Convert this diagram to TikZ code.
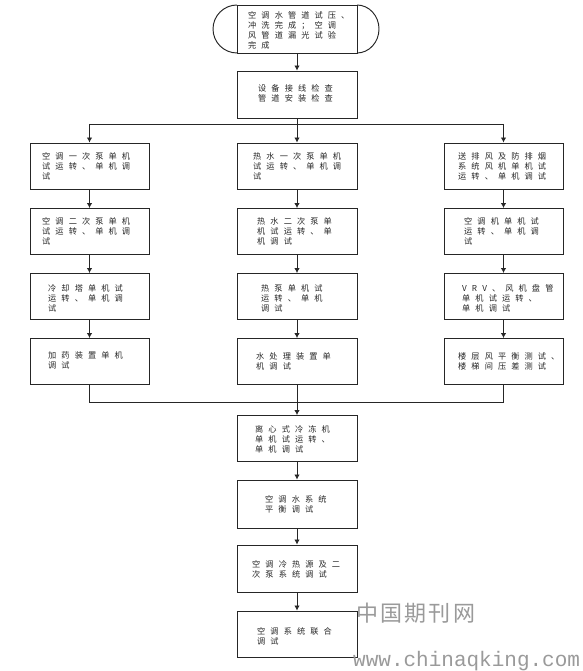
\documentclass[tikz,border=0pt]{standalone}
\usepackage{fontspec}
\newfontfamily\cjk{Noto Sans CJK SC}[LetterSpace=62]
\newfontfamily\cjkwm{Noto Sans CJK SC}[LetterSpace=10]
\newfontfamily\wmmono{Liberation Mono}
\usetikzlibrary{arrows.meta}
\definecolor{ink}{HTML}{262626}
\definecolor{wm}{HTML}{9A9A9A}
\begin{document}
\begin{tikzpicture}[x=1pt,y=-1pt,
  box/.style={draw=ink,line width=0.95pt,minimum width=119pt,minimum height=46pt,inner sep=0pt},
  txt/.style={font=\cjk\fontsize{8.2}{10}\selectfont,text=ink,align=left,inner sep=0pt,anchor=north west},
  conn/.style={draw=ink,line width=0.85pt},
  arr/.style={conn,-{Latex[length=5pt,width=5.5pt]}}]
\useasboundingbox[fill=white] (0,0) rectangle (582,671);

% top terminator
\node[box,minimum width=120pt,minimum height=48pt] (T) at (297,29) {};
\draw[draw=ink,line width=0.95pt] (237,5) .. controls (223.8,5) and (213,15.8) .. (213,29)
   .. controls (213,42.2) and (223.8,53) .. (237,53);
\draw[draw=ink,line width=0.95pt] (357,5) .. controls (369.1,5) and (379,15.8) .. (379,29)
   .. controls (379,42.2) and (369.1,53) .. (357,53);
\node[txt] (Tt) at (248,11) {空调水管道试压、\\冲洗完成；空调\\风管道漏光试验\\完成};

\node[box,minimum width=120pt,minimum height=47pt] (B0) at (297,94.5) {};
\node[txt] (B0t) at (258,84) {设备接线检查\\管道安装检查};

% left column
\node[box] (L1) at (89.5,166) {};
\node[box] (L2) at (89.5,231.5) {};
\node[box] (L3) at (89.5,296.5) {};
\node[box] (L4) at (89.5,361.5) {};
\node[txt] (L1t) at (42,152) {空调一次泵单机\\试运转、单机调\\试};
\node[txt] (L2t) at (42,217) {空调二次泵单机\\试运转、单机调\\试};
\node[txt] (L3t) at (48,284) {冷却塔单机试\\运转、单机调\\试};
\node[txt] (L4t) at (48,351) {加药装置单机\\调试};

% middle column
\node[box,minimum width=120pt] (M1) at (297,166) {};
\node[box,minimum width=120pt] (M2) at (297,231.5) {};
\node[box,minimum width=120pt] (M3) at (297,296.5) {};
\node[box,minimum width=120pt] (M4) at (297,361.5) {};
\node[txt] (M1t) at (253,152) {热水一次泵单机\\试运转、单机调\\试};
\node[txt] (M2t) at (257,217) {热水二次泵单\\机试运转、单\\机调试};
\node[txt] (M3t) at (261,284) {热泵单机试\\运转、单机\\调试};
\node[txt] (M4t) at (256,352) {水处理装置单\\机调试};

% right column
\node[box] (R1) at (503.5,166) {};
\node[box] (R2) at (503.5,231.5) {};
\node[box] (R3) at (503.5,296.5) {};
\node[box] (R4) at (503.5,361.5) {};
\node[txt] (R1t) at (458,152) {送排风及防排烟\\系统风机单机试\\运转、单机调试};
\node[txt] (R2t) at (464,217) {空调机单机试\\运转、单机调\\试};
\node[txt] (R3t) at (462,284) {VRV、风机盘管\\单机试运转、\\单机调试};
\node[txt] (R4t) at (458,352) {楼层风平衡测试、\\楼梯间压差测试};

% center chain
\node[box,minimum width=120pt] (C1) at (297,438.5) {};
\node[box,minimum width=120pt,minimum height=48pt] (C2) at (297,504) {};
\node[box,minimum width=120pt,minimum height=47pt] (C3) at (297,568.5) {};
\node[box,minimum width=120pt] (C4) at (297,634) {};
\node[txt] (C1t) at (255,425) {离心式冷冻机\\单机试运转、\\单机调试};
\node[txt] (C2t) at (265,495) {空调水系统\\平衡调试};
\node[txt] (C3t) at (252,560) {空调冷热源及二\\次泵系统调试};
\node[txt] (C4t) at (257,627) {空调系统联合\\调试};

% connectors
\coordinate (sL) at (89.5,124);
\coordinate (sR) at (503.5,124);
\coordinate (jL) at (89.5,402);
\coordinate (jR) at (503.5,402);
\draw[arr] (T.south) -- (B0.north);
\draw[arr] (B0.south) -- (M1.north);
\draw[conn] (sL) -- (sR);
\draw[arr] (sL) -- (L1.north);
\draw[arr] (sR) -- (R1.north);
\draw[arr] (L1.south) -- (L2.north);
\draw[arr] (L2.south) -- (L3.north);
\draw[arr] (L3.south) -- (L4.north);
\draw[arr] (M1.south) -- (M2.north);
\draw[arr] (M2.south) -- (M3.north);
\draw[arr] (M3.south) -- (M4.north);
\draw[arr] (R1.south) -- (R2.north);
\draw[arr] (R2.south) -- (R3.north);
\draw[arr] (R3.south) -- (R4.north);
\draw[conn] (L4.south) -- (jL) -- (jR) -- (R4.south);
\draw[arr] (M4.south) -- (C1.north);
\draw[arr] (C1.south) -- (C2.north);
\draw[arr] (C2.south) -- (C3.north);
\draw[arr] (C3.south) -- (C4.north);

% watermark
\node[font=\cjkwm\fontsize{22}{22}\selectfont,text=wm,inner sep=0pt,anchor=west] (wm1) at (356,613) {中国期刊网};
\node[font=\wmmono\fontsize{21}{21}\selectfont,text=wm,inner sep=0pt,anchor=base west] (wm2) at (353,666) {www.chinaqking.com};
\end{tikzpicture}
\end{document}
